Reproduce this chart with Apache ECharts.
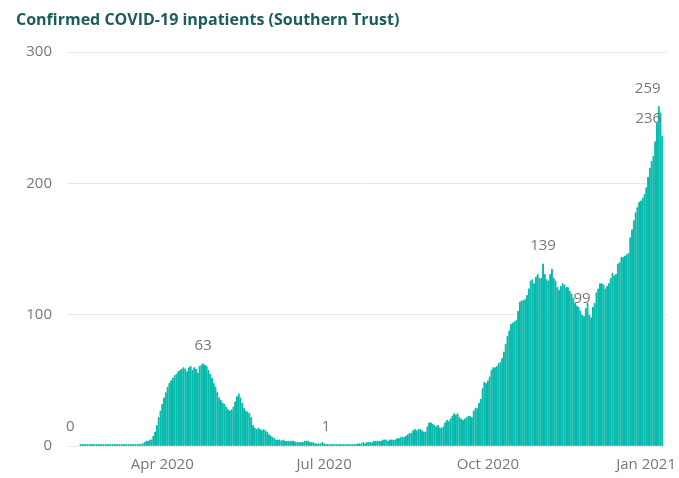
<!DOCTYPE html>
<html>
<head>
<meta charset="utf-8">
<script src="https://cdn.jsdelivr.net/npm/echarts@6/dist/echarts.min.js"></script>
<style>
  html, body { margin: 0; padding: 0; background: #fff; }
  #chart { width: 679px; height: 478px; }
</style>
</head>
<body>
<div id="chart"></div>
<script>
// first reported day, then one value per day (confirmed inpatients)
var firstDay = [2020, 1, 15]; // 15 Feb 2020
var inpatients = [
  0,0,0,0,0,0,0,0,0,0,
  0,0,0,0,0,0,0,0,0,0,
  0,0,0,0,0,0,0,0,0,0,
  0,0,0,0,0,
  2,3,4,4,5,5,8,11,16,22,
  27,32,37,41,45,48,50,52,54,55,
  57,58,59,60,59,
  57,60,61,58,60,59,56,61,62,63,
  62,61,
  58,55,52,48,45,41,37,35,33,32,
  30,28,27,28,30,34,38,40,37,33,
  29,27,26,25,22,16,14,13,14,13,
  12,13,12,11,9,8,7,6,
  5,5,5,4,5,4,4,4,
  4,4,4,3,3,3,3,3,
  4,4,4,3,3,3,
  2,2,2,2,3,2,
  1,1,1,1,1,1,1,1,1,1,1,1,1,1,1,1,1,1,
  2,2,2,3,2,3,3,3,
  3,4,4,4,4,4,5,5,5,4,5,5,5,
  5,6,6,7,7,7,
  8,9,10,10,
  12,13,12,13,13,12,11,11,
  15,18,18,17,16,
  15,16,14,14,15,
  18,20,19,21,23,
  25,24,25,22,
  21,20,21,22,23,23,22,
  27,29,29,33,36,
  44,49,48,50,
  53,58,60,60,61,63,
  64,67,72,78,84,88,
  93,94,95,96,103,
  110,111,111,112,115,120,
  126,127,124,129,131,128,128,139,131,127,
  126,131,135,128,126,121,119,122,124,123,
  121,121,118,116,113,109,107,106,103,100,
  99,105,109,100,98,106,109,117,120,124,
  124,123,120,122,124,128,132,130,131,139,
  140,144,144,145,146,147,159,165,172,178,
  182,186,187,189,192,197,205,212,217,221,
  232,246,259,254,236
];
// days (index into inpatients) that carry a value label
var labelledDays = [0, 69, 138, 260, 283, 325, 327];
var tickLabels = ['Apr 2020', 'Jul 2020', 'Oct 2020', 'Jan 2021'];

var MONTHS = ['Jan','Feb','Mar','Apr','May','Jun','Jul','Aug','Sep','Oct','Nov','Dec'];
var padBefore = 7, padAfter = 2; // empty days at the axis ends

function dayLabel(i) {
  var d = new Date(Date.UTC(firstDay[0], firstDay[1], firstDay[2] + i));
  return { key: d.toISOString().slice(0, 10), day: d.getUTCDate(), text: MONTHS[d.getUTCMonth()] + ' ' + d.getUTCFullYear() };
}

var cats = [], info = {}, seriesData = [];
for (var i = -padBefore; i < inpatients.length + padAfter; i++) {
  var dl = dayLabel(i);
  cats.push(dl.key);
  info[dl.key] = dl;
  if (i < 0 || i >= inpatients.length) {
    seriesData.push('-');
  } else if (labelledDays.indexOf(i) >= 0) {
    var shift = 0;
    if (i === 0) shift = -10;
    if (i === 283) shift = -2;
    if (i === 325) shift = -11;
    if (i === 327) shift = -14;
    seriesData.push({
      value: inpatients[i],
      label: { show: true, offset: [shift, 0] }
    });
  } else {
    seriesData.push(inpatients[i]);
  }
}

function isTick(key) {
  var dl = info[key];
  return dl.day === 1 && tickLabels.indexOf(dl.text) >= 0;
}

var myChart = echarts.init(document.getElementById('chart'));
var option = {
  animation: false,
  title: {
    text: 'Confirmed COVID-19 inpatients (Southern Trust)',
    left: 11,
    top: 7,
    textStyle: { fontFamily: 'Open Sans', fontWeight: 'bold', fontSize: 16, color: '#1a5c5c' }
  },
  grid: { left: 67, right: 11, top: 52, bottom: 32, containLabel: false },
  xAxis: {
    type: 'category',
    data: cats,
    axisLine: { show: false },
    axisTick: { show: false },
    axisLabel: {
      interval: function (idx, val) { return isTick(val); },
      formatter: function (val) {
        var t = info[val].text;
        if (t === tickLabels[tickLabels.length - 1]) return '{last|' + t + '}';
        return t;
      },
      rich: {
        last: { fontFamily: 'Open Sans', fontSize: 15, color: '#777', padding: [0, 11, 0, 0] }
      },
      fontFamily: 'Open Sans',
      fontSize: 15,
      color: '#777',
      margin: 11
    }
  },
  yAxis: {
    type: 'value',
    min: 0,
    max: 300,
    interval: 100,
    axisLine: { show: false },
    axisTick: { show: false },
    splitLine: { lineStyle: { color: '#e8e8e8', width: 1 } },
    axisLabel: { fontFamily: 'Open Sans', fontSize: 15, color: '#777', margin: 15 }
  },
  series: [{
    type: 'bar',
    data: seriesData,
    barCategoryGap: '0%',
    barMinHeight: 2,
    itemStyle: { color: '#01B8AA', borderColor: '#01B8AA', borderWidth: 1 },
    label: {
      show: false,
      position: 'top',
      distance: 10,
      fontFamily: 'Open Sans',
      fontSize: 15,
      color: '#777'
    }
  }]
};
myChart.setOption(option);
</script>
</body>
</html>
